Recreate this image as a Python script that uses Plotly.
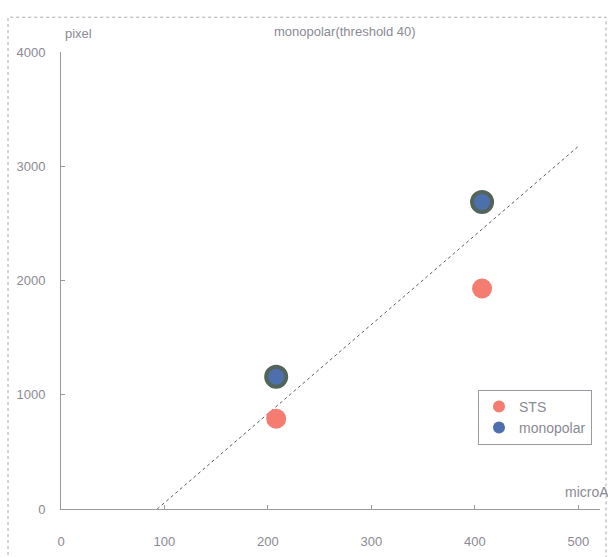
import plotly.graph_objects as go

# Data
current_sts = [208, 407]
pixel_sts = [790, 1930]
current_mono = [208, 407]
pixel_mono = [1157, 2687]
fit_x = [93, 500]
fit_y = [0, 3174]

x_ticks = [0, 100, 200, 300, 400, 500]
y_ticks = [0, 1000, 2000, 3000, 4000]

txt = "#8a8a94"
font = "Liberation Sans, Arial, sans-serif"

fig = go.Figure()

fig.add_trace(go.Scatter(x=fit_x, y=fit_y, mode="lines",
                         line=dict(color="#5a5a64", width=1, dash="dot"),
                         showlegend=False, hoverinfo="skip"))
fig.add_trace(go.Scatter(x=current_sts, y=pixel_sts, mode="markers", name="STS",
                         marker=dict(size=20, color="#f47c70", line=dict(width=0)),
                         showlegend=False))
fig.add_trace(go.Scatter(x=current_mono, y=pixel_mono, mode="markers", name="monopolar",
                         marker=dict(size=20, color="#4d6fae", line=dict(width=4, color="#53645b")),
                         showlegend=False))
# legend entries
fig.add_trace(go.Scatter(x=[None], y=[None], mode="markers", name="STS",
                         marker=dict(size=12, color="#f47c70")))
fig.add_trace(go.Scatter(x=[None], y=[None], mode="markers", name="monopolar",
                         marker=dict(size=12, color="#4d6fae")))

fig.update_layout(
    width=608, height=557,
    margin=dict(l=61, r=8, t=52, b=45),
    paper_bgcolor="white", plot_bgcolor="white",
    font=dict(family=font, size=13, color=txt),
    xaxis=dict(range=[0, 521], tickvals=x_ticks, ticktext=[str(v) for v in x_ticks],
               showgrid=False, zeroline=False, showline=True, linecolor="#9a9aa2", linewidth=1,
               ticks="inside", ticklen=4, tickcolor="#9a9aa2", ticklabelstandoff=20,
               tickfont=dict(size=13, color=txt)),
    yaxis=dict(range=[0, 4000], tickvals=y_ticks, ticktext=[str(v) for v in y_ticks],
               showgrid=False, zeroline=False, showline=True, linecolor="#9a9aa2", linewidth=1,
               ticks="inside", ticklen=4, tickcolor="#9a9aa2", ticklabelstandoff=12,
               tickfont=dict(size=13, color=txt)),
    legend=dict(x=(478 - 61) / 539, y=(512 - 392) / 460, xanchor="left", yanchor="top",
                bordercolor="#9a9aa2", borderwidth=1, bgcolor="white",
                font=dict(size=14, color=txt), itemwidth=30),
    showlegend=True,
)

fig.add_annotation(text="monopolar(threshold 40)", xref="paper", yref="paper",
                   x=(345 - 61) / 539, y=(512 - 31) / 460, showarrow=False,
                   xanchor="center", yanchor="middle", font=dict(size=13, color=txt))
fig.add_annotation(text="pixel", xref="paper", yref="paper",
                   x=(63 - 61) / 539, y=(512 - 33) / 460, showarrow=False,
                   xanchor="left", yanchor="middle", font=dict(size=13, color=txt))
fig.add_annotation(text="microA", xref="paper", yref="paper",
                   x=(563 - 61) / 539, y=(512 - 495) / 460, showarrow=False,
                   xanchor="left", yanchor="middle", font=dict(size=14, color=txt))

# outer dashed frame
fig.add_shape(type="rect", xref="paper", yref="paper",
              x0=(8 - 61) / 539, x1=(606 - 61) / 539,
              y0=(512 - 600) / 460, y1=(512 - 17) / 460,
              line=dict(color="#a8a8b0", width=1, dash="dot"), layer="below")

fig.write_html("out.html")
